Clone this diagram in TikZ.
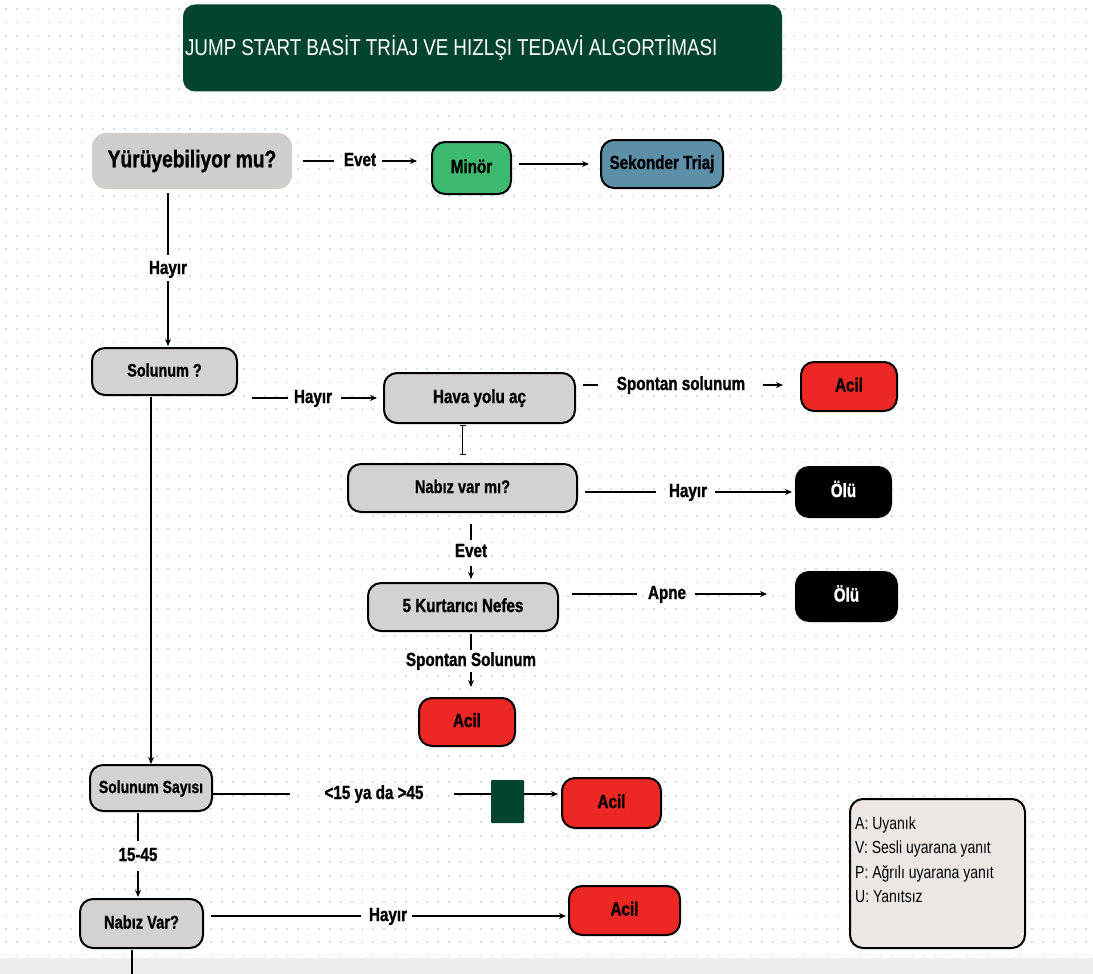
\documentclass[tikz,border=0pt]{standalone}
\usepackage{fontspec}
\setmainfont{Liberation Sans}[FakeStretch=0.8, BoldFeatures={FakeBold=1.2}]
\newfontfamily\titlefont{Liberation Sans}[FakeStretch=0.82]
\usetikzlibrary{arrows.meta,calc}
\definecolor{dkgreen}{RGB}{3,67,50}
\definecolor{walkgray}{RGB}{208,206,203}
\definecolor{boxgray}{RGB}{211,210,209}
\definecolor{minorgreen}{RGB}{62,185,112}
\definecolor{sekblue}{RGB}{92,143,168}
\definecolor{acilred}{RGB}{237,40,36}
\definecolor{legfill}{RGB}{236,231,226}
\definecolor{bandgray}{RGB}{236,238,240}
\definecolor{dotgray}{RGB}{216,219,222}
\tikzset{
  box/.style={rectangle, rounded corners=13pt, draw=black, line width=2pt, inner sep=0pt,
    font=\fontsize{19}{22}\selectfont\bfseries, text height=14pt, text depth=4pt, align=center},
  graybox/.style={box, fill=boxgray},
  redbox/.style={box, fill=acilred},
  blackbox/.style={box, fill=black, text=white},
  lbl/.style={inner sep=0pt, font=\fontsize{19}{22}\selectfont\bfseries, text height=14pt, text depth=4pt},
  legtxt/.style={inner sep=0pt, anchor=base west, font=\fontsize{17.5}{20}\selectfont},
  conn/.style={draw=black, line width=1.3pt},
  arr/.style={conn, -{Stealth[length=7pt,width=6pt]}},
  dotrow/.style={draw=dotgray, line width=1.7pt, dash pattern=on 1.7pt off 9.1pt},
}
\begin{document}
\begin{tikzpicture}[x=1pt,y=-1pt]
\useasboundingbox (0,0) rectangle (1093,974);
\fill[white] (0,0) rectangle (1093,974);
\foreach \j in {0,...,71}{\draw[dotrow] (5.2,{9.2+13.33*\j}) -- (1093,{9.2+13.33*\j});}
\fill[bandgray] (0,958) rectangle (1093,974);

% title
\node[fill=dkgreen, rounded corners=12pt, minimum height=87pt, text width=595pt, inner xsep=2pt,
  align=left, text=white, font=\titlefont\fontsize{23}{26}\selectfont] (title) at (482.5,48)
  {\spaceskip=5pt plus 1pt\relax JUMP START BASİT TRİAJ VE HIZLŞI TEDAVİ ALGORTİMASI};

% nodes
\node[box, draw=none, fill=walkgray, rounded corners=14pt, minimum width=200pt, minimum height=56pt,
  font=\fontsize{24}{28}\selectfont\bfseries, text height=17.5pt, text depth=5pt] (walk) at (192,161) {Yürüyebiliyor mu?};
\node[box, fill=minorgreen, minimum width=79pt, minimum height=52pt] (minor) at (471.5,168) {Minör};
\node[box, fill=sekblue, minimum width=122pt, minimum height=48pt] (sek) at (662,164) {Sekonder Triaj};
\node[graybox, minimum width=145pt, minimum height=47pt, font=\fontsize{18}{22}\selectfont\bfseries] (sol) at (164.5,371.5) {Solunum ?};
\node[graybox, minimum width=191pt, minimum height=50pt] (hava) at (479.5,398) {Hava yolu aç};
\node[redbox, minimum width=96pt, minimum height=49pt] (acil1) at (849,386.5) {Acil};
\node[graybox, minimum width=229pt, minimum height=48pt, font=\fontsize{18.3}{22}\selectfont\bfseries] (nab1) at (462.5,488) {Nabız var mı?};
\node[blackbox, minimum width=95pt, minimum height=50pt] (olu1) at (843.5,492) {Ölü};
\node[graybox, minimum width=190pt, minimum height=48pt] (kurt) at (463,607) {5 Kurtarıcı Nefes};
\node[blackbox, minimum width=101pt, minimum height=49pt] (olu2) at (846.5,596.5) {Ölü};
\node[redbox, minimum width=96pt, minimum height=48pt] (acil2) at (467,722) {Acil};
\node[graybox, minimum width=122pt, minimum height=46pt, font=\fontsize{17.5}{22}\selectfont\bfseries] (say) at (151,788) {Solunum Sayısı};
\node[fill=dkgreen, rounded corners=1pt, minimum width=33pt, minimum height=43pt, inner sep=0pt] (grn) at (507.5,801.5) {};
\node[redbox, minimum width=99pt, minimum height=50pt] (acil3) at (611.5,803) {Acil};
\node[graybox, minimum width=123pt, minimum height=49pt, font=\fontsize{18.3}{22}\selectfont\bfseries] (nab2) at (141.5,923.5) {Nabız Var?};
\node[redbox, minimum width=111pt, minimum height=49pt] (acil4) at (624.5,910.5) {Acil};

% legend
\node[draw=black, line width=2pt, fill=legfill, rounded corners=13pt, minimum width=175pt, minimum height=149pt] (leg) at (937.5,873.5) {};
\node[legtxt] (legA) at (855,829) {A: Uyanık};
\node[legtxt] (legV) at (855,853.5) {V: Sesli uyarana yanıt};
\node[legtxt] (legP) at (855,878) {P: Ağrılı uyarana yanıt};
\node[legtxt] (legU) at (855,902.5) {U: Yanıtsız};

% labels
\node[lbl] (evet1) at (360,161) {Evet};
\node[lbl] (hay1) at (168,269) {Hayır};
\node[lbl] (hay2) at (313,398) {Hayır};
\node[lbl] (spon1) at (681,385) {Spontan solunum};
\node[lbl] (hay3) at (688,492) {Hayır};
\node[lbl] (evet2) at (471,552) {Evet};
\node[lbl] (apne) at (667,594) {Apne};
\node[lbl] (spon2) at (471,661) {Spontan Solunum};
\node[lbl] (lt) at (374,794) {<15 ya da >45};
\node[lbl] (r1545) at (138,856) {15-45};
\node[lbl] (hay4) at (388,916) {Hayır};

\coordinate (bot) at (132,974);

% connectors
\draw[conn, shorten <=10pt, shorten >=10pt] (walk.east |- evet1.west) -- (evet1.west);
\draw[arr, shorten <=6pt, shorten >=14pt] (evet1.east) -- (evet1.east -| minor.west);
\draw[arr, shorten <=7pt, shorten >=11pt] (minor.east |- sek.west) -- (sek.west);

\draw[conn, shorten <=3pt, shorten >=5pt] (hay1.north |- walk.south) -- (hay1.north);
\draw[arr, shorten <=3pt, shorten >=1pt] (hay1.south) -- (hay1.south |- sol.north);

\draw[conn, shorten <=14pt, shorten >=6pt] (sol.east |- hay2.west) -- (hay2.west);
\draw[arr, shorten <=9pt, shorten >=6pt] (hay2.east) -- (hay2.east -| hava.west);

\draw[conn, shorten <=7pt, shorten >=19pt] (hava.east |- spon1.west) -- (spon1.west);
\draw[arr, shorten <=18pt, shorten >=17pt] (spon1.east) -- (spon1.east -| acil1.west);

\draw[conn, {Bar[width=6pt]}-{Bar[width=6pt]}, shorten <=1pt, shorten >=8pt] (nab1.north |- hava.south) -- (nab1.north);

\draw[conn, shorten <=7pt, shorten >=13pt] (nab1.east |- hay3.west) -- (hay3.west);
\draw[arr, shorten <=8pt, shorten >=3pt] (hay3.east) -- (hay3.east -| olu1.west);

\draw[conn, shorten <=11pt, shorten >=3pt] (evet2.north |- nab1.south) -- (evet2.north);
\draw[arr, shorten <=5pt, shorten >=3pt] (evet2.south) -- (evet2.south |- kurt.north);

\draw[conn, shorten <=13pt, shorten >=11pt] (kurt.east |- apne.west) -- (apne.west);
\draw[arr, shorten <=9pt, shorten >=28pt] (apne.east) -- (apne.east -| olu2.west);

\draw[conn, shorten <=2pt, shorten >=2pt] (spon2.north |- kurt.south) -- (spon2.north);
\draw[arr, shorten <=2pt, shorten >=10pt] (spon2.south) -- (spon2.south |- acil2.north);

\draw[arr, shorten <=1pt] (say.north |- sol.south) -- (say.north);

\draw[conn, shorten >=34pt] (say.east |- lt.west) -- (lt.west);
\draw[conn, shorten <=30pt] (lt.east) -- (lt.east -| grn.west);
\draw[arr, shorten >=3pt] (lt.east -| grn.east) -- (lt.east -| acil3.west);

\draw[conn, shorten <=1pt, shorten >=6pt] (r1545.north |- say.south) -- (r1545.north);
\draw[arr, shorten <=6pt, shorten >=1pt] (r1545.south) -- (r1545.south |- nab2.north);

\draw[conn, shorten <=7pt, shorten >=8pt] (nab2.east |- hay4.west) -- (hay4.west);
\draw[arr, shorten <=5pt, shorten >=2pt] (hay4.east) -- (hay4.east -| acil4.west);

\draw[conn, shorten <=1pt] (bot |- nab2.south) -- (bot);
\end{tikzpicture}
\end{document}
